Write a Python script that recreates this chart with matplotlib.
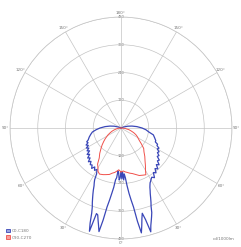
import numpy as np
import matplotlib
matplotlib.use('Agg')
import matplotlib.pyplot as plt
from matplotlib.patches import Patch

# ---------------------------
# Data (cd/1000lm), gamma in degrees from nadir
# ---------------------------
blue_gamma = [0, 1, 2, 3, 4, 5, 6, 7, 8, 9, 10, 11, 12, 13, 14, 15, 16, 17, 18, 19,
              20, 21, 22, 23, 24, 25, 26, 27, 28, 29, 30, 32, 34, 36, 38, 40, 42, 44,
              46, 48, 50, 52, 54, 56, 58, 60, 62, 64, 66, 68, 70, 74, 78, 82, 86, 90,
              95, 100, 105, 110, 115, 120, 150, 180]

c0_c180_left = [190, 216, 225, 194, 186, 216, 225, 259, 285, 315, 346, 406, 458, 432,
                410, 389, 385, 467, 432, 389, 363, 346, 328, 311, 294, 276, 264, 251,
                225, 216, 207, 216, 203, 216, 203, 207, 194, 203, 186, 194, 177, 186,
                168, 177, 164, 173, 160, 168, 156, 160, 151, 143, 134, 125, 108, 91,
                69, 48, 30, 13, 4, 0, 0, 0]

c0_c180_right = [190, 220, 190, 225, 199, 216, 251, 285, 315, 346, 410, 462, 432, 402,
                 380, 410, 467, 441, 423, 406, 389, 363, 346, 328, 311, 298, 285, 276,
                 268, 264, 259, 251, 259, 238, 246, 229, 238, 220, 229, 212, 216, 199,
                 203, 190, 194, 181, 186, 173, 173, 160, 160, 151, 143, 121, 108, 91,
                 69, 48, 30, 13, 4, 0, 0, 0]

red_gamma = [0, 3, 5, 8, 11, 14, 18, 21, 25, 28, 30, 33, 36, 40, 44, 48, 52, 56, 62,
             66, 70, 74, 78, 84, 90, 180]

c90_c270_left = [190, 181, 186, 194, 199, 207, 212, 216, 220, 212, 199, 186, 160, 143,
                 125, 110, 95, 82, 64, 52, 42, 32, 22, 12, 2, 0]

c90_c270_right = [190, 186, 190, 194, 199, 203, 212, 220, 225, 229, 212, 194, 177, 160,
                  143, 132, 112, 95, 80, 70, 58, 45, 35, 17, 4, 0]

ring_values = [120, 240, 360, 480]
angle_ticks = [0, 30, 60, 90, 120, 150, 180, 210, 240, 270, 300, 330]
angle_labels = ['0°', '30°', '60°', '90°', '120°', '150°', '180°',
                '150°', '120°', '90°', '60°', '30°']
legend_labels = ['C0-C180', 'C90-C270']

BLUE = '#3a47b8'
RED = '#f0504a'
GRID = '#c4c4c4'
TEXT = '#777777'

fig = plt.figure(figsize=(2.41, 2.47), dpi=100)
ax = fig.add_axes([10 / 241, 8 / 247, 222 / 241, 222 / 247], projection='polar')
ax.set_theta_zero_location('S')
ax.set_theta_direction(1)
ax.set_rlim(0, ring_values[-1])

# curves: C0 / C90 to the right (+gamma), C180 / C270 to the left (-gamma)
bg = np.deg2rad(blue_gamma)
rg = np.deg2rad(red_gamma)
ax.plot(bg, c0_c180_right, color=BLUE, lw=0.9)
ax.plot(-bg, c0_c180_left, color=BLUE, lw=0.9)
ax.plot(rg, c90_c270_right, color=RED, lw=0.7)
ax.plot(-rg, c90_c270_left, color=RED, lw=0.7)

# grid
ax.set_rgrids(ring_values, labels=[''] * len(ring_values))
ax.set_thetagrids(angle_ticks, labels=[''] * len(angle_ticks))
ax.grid(True, color=GRID, lw=0.5)
ax.spines['polar'].set_color(GRID)
ax.spines['polar'].set_linewidth(0.5)

label_r = ring_values[-1] * 1.04
for t, lab in zip(angle_ticks, angle_labels):
    ax.text(np.deg2rad(t), label_r, lab, fontsize=3, color=TEXT,
            ha='center', va='center', clip_on=False)

for v in ring_values:
    for th in (180, 0):
        ax.text(np.deg2rad(th), v, str(v), fontsize=2.6, color=TEXT,
                ha='center', va='center', zorder=1,
                bbox=dict(facecolor='white', edgecolor='none', pad=0.3))

handles = [Patch(facecolor='#9aa4e0', edgecolor=BLUE, lw=0.6),
           Patch(facecolor='#f7a09c', edgecolor=RED, lw=0.6)]
fig.legend(handles, legend_labels, loc='lower left', bbox_to_anchor=(0.01, 0.015),
           frameon=False, fontsize=3, handlelength=0.9, handleheight=0.9,
           handletextpad=0.5, labelspacing=0.6, labelcolor=TEXT)

fig.text(0.975, 0.025, 'cd/1000lm', fontsize=3, color=TEXT, ha='right', va='bottom')

fig.savefig('out.png', dpi=100, facecolor='white')
